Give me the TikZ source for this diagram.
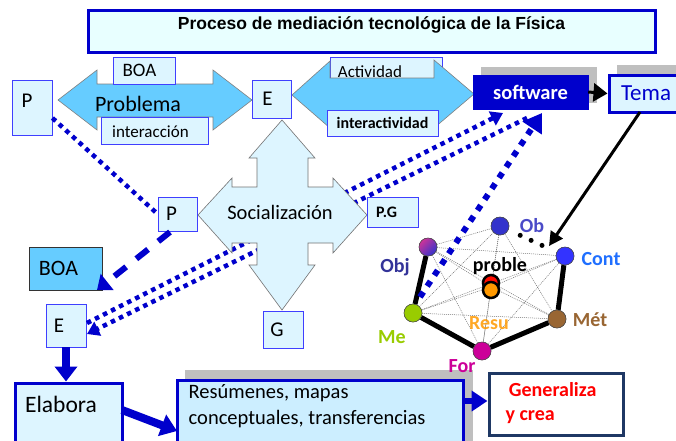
\documentclass[tikz,border=0pt]{standalone}
\usepackage{fontspec}
\setmainfont{Carlito}
\newfontfamily\arialf{Liberation Sans}
\usetikzlibrary{arrows.meta}
\definecolor{lcyan}{HTML}{DDF5FF}
\definecolor{tcyan}{HTML}{E8FFFF}
\definecolor{sky}{HTML}{66CCFF}
\definecolor{bb}{HTML}{3F3FFF}
\definecolor{db}{HTML}{0000CC}
\definecolor{navy}{HTML}{1F3864}
\definecolor{shgray}{HTML}{BFBFBF}
\definecolor{resbox}{HTML}{CCEEFF}
\definecolor{cOb}{HTML}{3333CC}
\definecolor{cCont}{HTML}{3333FF}
\definecolor{cMet}{HTML}{996633}
\definecolor{cFor}{HTML}{CC0099}
\definecolor{cMe}{HTML}{99CC00}
\definecolor{cObj}{HTML}{CC3399}
\definecolor{cRes}{HTML}{FF9900}
\definecolor{cContL}{HTML}{1F6FFF}
\definecolor{cObL}{HTML}{4B4BC8}
\definecolor{cObjL}{HTML}{333399}
\newcommand\fsz[1]{\fontsize{#1}{#1}\selectfont}
\tikzset{
  wh/.style 2 args={minimum width=#1pt, minimum height=#2pt},
  sbox/.style={draw=bb, fill=lcyan, line width=0.8pt, inner sep=0pt, font=\fsz{21}},
  thickbox/.style={draw=db, line width=3pt, inner sep=0pt},
  shade/.style={fill=shgray, draw=none},
  bigarrow/.style={fill=sky, draw=black!50, line width=0.6pt},
  crossshape/.style={fill=lcyan, draw=black!55, line width=0.6pt},
  bdot/.style={draw=db, line width=4.5pt, dash pattern=on 4.5pt off 4.5pt},
  gnode/.style={circle, draw=black!70, line width=0.5pt, minimum size=18pt, inner sep=0pt},
  thin/.style={draw=black!55, line width=0.5pt, dash pattern=on 1pt off 1pt},
  glab/.style={font=\fsz{20}\bfseries, inner sep=0pt},
  txt/.style={inner sep=0pt}
}
\begin{document}
\begin{tikzpicture}[x=1pt,y=-1pt]
\clip (0,0) rectangle (676,440);
\fill[white] (0,0) rectangle (676,440);

% title
\node[thickbox, fill=tcyan, wh={567}{42}, label={[txt, yshift=6pt, font=\arialf\fsz{17.5}\bfseries]center:Proceso de mediación tecnológica de la Física}] (title) at (371.5,31) {};

% left double arrow
\path[bigarrow] (58,100) -- (97,70) -- (97,84) -- (213,84) -- (213,70) -- (252,100) -- (213,130) -- (213,117) -- (97,117) -- (97,130) -- cycle;
\node[txt, font=\fsz{22}] (problema) at (138,104) {Problema};
\node[sbox, wh={62}{27}, label={[txt, xshift=-4.5pt, font=\fsz{19}]center:BOA}] (boa1) at (144,70.5) {};
\node[sbox, wh={107}{27}, label={[txt, xshift=-4pt, yshift=-1pt, font=\fsz{17}]center:interacción}] (inter) at (154.5,130.5) {};

% right double arrow
\node[sbox, wh={112}{23}, label={[txt, xshift=-16pt, yshift=-3pt, font=\fsz{17}]center:Actividad}] (activ) at (386,68.5) {};
\path[bigarrow] (292,95) -- (330,61) -- (330,78) -- (434,78) -- (434,60) -- (474,94) -- (434,128) -- (434,112) -- (330,112) -- (330,128) -- cycle;
\node[sbox, wh={111}{26}, font=\fsz{16}\bfseries] (interact) at (382.5,123) {interactividad};

\node[sbox, wh={40}{55}, label={[txt, xshift=-5pt, yshift=7pt, font=\fsz{21}]center:P}] (P1) at (32,107.5) {};
\node[sbox, wh={39}{38}, label={[txt, xshift=-4pt, font=\fsz{21}]center:E}] (E1) at (271.5,99) {};

% software and Tema
\fill[shade] (481,67) rectangle (597,103);
\node[draw=db, fill=db, wh={115}{34}, inner sep=0pt, text=white, font=\fsz{20.5}\bfseries] (soft) at (530.5,92) {software};
\fill[shade] (617,65) rectangle (690,100);
\node[thickbox, fill=lcyan, wh={81}{37}, label={[txt, xshift=-3.5pt, font=\fsz{23}, text=db]center:Tema}] (tema) at (649.5,93.5) {};
\draw[black, line width=3pt, -{Triangle[width=18pt,length=14pt]}] (soft.east) -- (tema.west);

% long dotted lines
\node[sbox, wh={40}{43}, label={[txt, xshift=-7pt, font=\fsz{21}]center:E}] (E2) at (66,325.5) {};
\coordinate (e2a) at (87,323);
\coordinate (e2b) at (87,334);
\coordinate (sofa) at (503,113);
\coordinate (sofb) at (527,118);
\draw[bdot, -{Triangle[width=15pt,length=12pt]}] (e2a) -- (sofa);
\draw[bdot, -{Triangle[width=15pt,length=12pt]}] (sofb) -- (e2b);

% socialization cross
\path[crossshape] (282,120) -- (315,158) -- (308,158) -- (308,187) -- (333,187) -- (333,178) -- (367,215) -- (333,253) -- (333,243) -- (308,243) -- (308,265) -- (315,265) -- (282,310) -- (249,265) -- (257,265) -- (257,243) -- (232,243) -- (232,253) -- (198,215) -- (232,178) -- (232,187) -- (257,187) -- (257,158) -- (249,158) -- cycle;
\node[txt, font=\fsz{20.5}] (soc) at (280,212) {Socialización};

\node[sbox, wh={39}{34}, label={[txt, xshift=-6pt, font=\fsz{21}]center:P}] (Pm) at (177.5,214) {};
\node[sbox, wh={51}{30}, label={[txt, xshift=-6pt, font=\fsz{16}\bfseries]center:P.G}] (PG) at (392.5,212) {};
\node[sbox, wh={40}{37}, label={[txt, xshift=-6pt, font=\fsz{21}]center:G}] (G) at (283,329.5) {};
\node[draw=black!80, fill=sky, line width=0.8pt, inner sep=0pt, wh={73}{43}, label={[txt, xshift=-7pt, font=\fsz{22}]center:BOA}] (boa2) at (65.5,268.5) {};

% P - P dotted
\draw[bdot] (P1.east |- 0,118) -- (Pm.west);
% dashed P -> BOA
\coordinate (pmb) at (170,232);
\coordinate (boat) at (97,290);
\draw[draw=db, line width=6pt, dash pattern=on 15pt off 13pt, -{Triangle[width=20pt,length=13pt]}] (pmb) -- (boat);

% Elabora, Resumenes, Generaliza
\node[thickbox, fill=lcyan, wh={107}{77}, label={[txt, xshift=-7.5pt, yshift=17.5pt, font=\fsz{23.5}]center:Elabora}] (elab) at (68.5,421.5) {};
\fill[shade] (185,370) rectangle (473,450);
\node[thickbox, fill=resbox, wh={286}{80}, label={[txt, anchor=north west, xshift=13pt, yshift=-6pt, font=\fsz{20.5}, align=left]north west:Resúmenes, mapas\\[5pt]conceptuales, transferencias}] (resum) at (320,420) {};
\node[draw=navy, line width=3pt, fill=white, wh={134}{62}, inner sep=0pt, label={[txt, xshift=-5pt, yshift=1pt, font=\fsz{20}\bfseries, text=red, align=left]center:\,Generaliza\\[4pt]y crea}] (gen) at (556,404) {};

\draw[db, line width=8pt, -{Triangle[width=22pt,length=15pt]}] (E2.south) -- (elab.north -| E2.south);
\coordinate (elabr) at (122,410);
\coordinate (resl) at (177,431);
\draw[db, line width=8pt, -{Triangle[width=22pt,length=16pt]}] (elabr) -- (resl);
\coordinate (resr) at (463,401);
\draw[db, line width=6pt, -{Triangle[width=20pt,length=16pt]}] (resr) -- (gen.west |- resr);

% graph
\node[gnode, fill=cOb] (Ob) at (500,226) {};
\node[gnode, fill=cCont] (Cont) at (565,256) {};
\node[gnode, fill=cMet] (Met) at (557,319) {};
\node[gnode, fill=cFor] (For) at (482,351) {};
\node[gnode, fill=cMe] (Me) at (413,313) {};
\node[gnode, shading=axis, left color=cObj, right color=cOb, shading angle=45] (Obj) at (428,247) {};
\coordinate (ctr) at (491,287);
\foreach \a/\b in {Obj/Ob, Obj/Cont, Obj/Met, Obj/For, Obj/ctr, Ob/Me, Ob/For, Ob/Met, Ob/ctr, Cont/Me, Cont/For, Cont/ctr, Me/Met, Me/ctr, Met/ctr, For/ctr}
  \draw[thin] (\a) -- (\b);
\draw[black, line width=5pt, line join=round] (Obj) -- (Me) -- (For) -- (Met) -- (Cont);
\node[gnode, fill=cMet] at (Met) {};
\node[gnode, fill=cFor] at (For) {};
\node[gnode, fill=cMe] at (Me) {};
\node[gnode, fill=cCont] at (Cont) {};
\node[gnode, fill=cOb] at (Ob) {};
\node[gnode, shading=axis, left color=cObj, right color=cOb, shading angle=45] at (Obj) {};
\node[circle, draw=black, line width=2.5pt, fill=red!90!orange, minimum size=16pt, inner sep=0pt] (ctrR) at (491,283) {};
\node[circle, draw=black, line width=2.5pt, fill=cRes, minimum size=16pt, inner sep=0pt] (ctrO) at (491,290) {};

\draw[black, line width=5pt, dash pattern=on 0pt off 12pt, line cap=round, shorten <=13pt, shorten >=9pt] (Ob) -- (Cont);
\coordinate (temab) at (640,112);
\coordinate (conttip) at (549,246);
\draw[black, line width=3pt, -{Triangle[width=14pt,length=14pt]}] (temab) -- (conttip);

% steep dotted line to software
\coordinate (stp) at (420,297);
\coordinate (sofc) at (542,113);
\draw[draw=db, line width=6pt, dash pattern=on 6pt off 7pt, -{Triangle[width=22pt,length=18pt]}] (stp) -- (sofc);

% graph labels
\node[glab, text=cObjL] (lObj) at (395,267) {Obj};
\node[glab, text=cObL] (lOb) at (532,226) {Ob};
\node[glab, text=cContL] (lCont) at (601,259) {Cont};
\node[glab, text=cMet] (lMet) at (590,320) {Mét};
\node[glab, text=cFor] (lFor) at (462,366) {For};
\node[glab, text=cMe] (lMe) at (392,337) {Me};
\node[glab, text=cRes, opacity=0.85] (lRes) at (489,323) {Resu};
\node[txt, font=\fsz{20}\bfseries] (lprob) at (500,266) {proble};
\end{tikzpicture}
\end{document}
